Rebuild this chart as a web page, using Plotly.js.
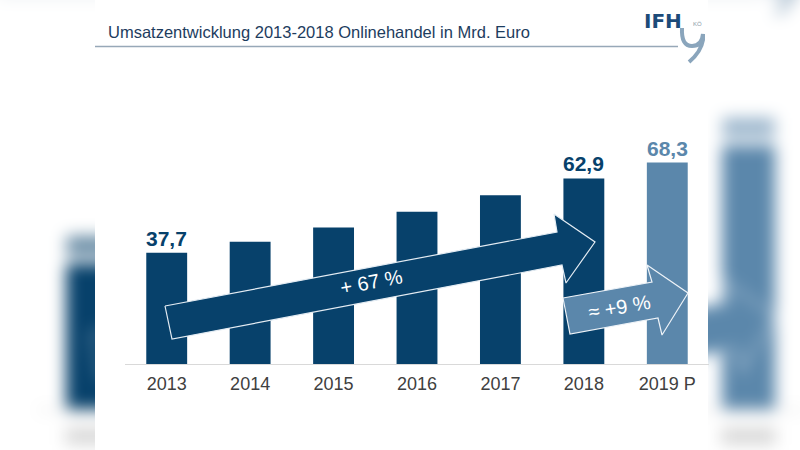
<!DOCTYPE html>
<html>
<head>
<meta charset="utf-8">
<script src="https://cdn.plot.ly/plotly-3.0.1.min.js"></script>
<style>
  html, body { margin:0; padding:0; background:#ffffff; width:800px; height:450px; overflow:hidden; }
  #bg { position:absolute; left:0; top:0; width:800px; height:450px;
        transform: scale(1.31); transform-origin: 405px 218px; filter: blur(6px); }
  #fg { position:absolute; left:0; top:0; width:800px; height:450px; }
</style>
</head>
<body>
<div id="bg"></div>
<div id="fg"></div>
<script>
// ---- data ----
const years = ['2013', '2014', '2015', '2016', '2017', '2018', '2019 P'];
const revenue = [37.7, 41.4, 46.3, 51.6, 57.2, 62.9, 68.3];   // Mrd. Euro
const isForecast = [false, false, false, false, false, false, true];
const showValue = [true, false, false, false, false, true, true];
const titleText = 'Umsatzentwicklung 2013-2018 Onlinehandel in Mrd. Euro';

// ---- style ----
const DARK = '#07416b';
const LIGHT = '#5b87ab';
const FONT = 'Liberation Sans, Arial, sans-serif';
const M = {l:125, r:91, t:128, b:86};
const W = 800 - M.l - M.r, H = 450 - M.t - M.b, BASE = 450 - M.b;

function px(x){ return (x - M.l) / W; }
function py(y){ return (BASE - y) / H; }
function pt(p){ return px(p[0]).toFixed(4) + ',' + py(p[1]).toFixed(4); }
function fmt(v){ return v.toFixed(1).replace('.', ','); }

const barColors = isForecast.map(f => f ? LIGHT : DARK);
const growthAll = Math.round((revenue[5] / revenue[0] - 1) * 100);
const growthNext = Math.round((revenue[6] / revenue[5] - 1) * 100);

// decorative arrow outlines, in page pixels (drawn on an overlay axis that maps pixels)
const bigArrow = [[165,306],[557,232],[554,214],[595,242],[566,283],[562,265],[172,339],[165,306]];
const smallArrow = [[563,298],[652,282],[647,265],[688,293],[662,335],[658,318],[570,334],[563,298]];

function makeTraces(isBg){
  const t = [{type:'bar', x: years.slice(), y: revenue.slice(),
    marker:{color: barColors.slice(), line:{width:0}}, hoverinfo:'skip', cliponaxis:false}];
  [[bigArrow, DARK, '#e4ecf3'], [smallArrow, LIGHT, '#eef3f8']].forEach(a => {
    t.push({type:'scatter', mode:'lines', xaxis:'x2', yaxis:'y2',
      x: a[0].map(p => p[0]), y: a[0].map(p => p[1]),
      fill:'toself', fillcolor:a[1], line:{color:a[2], width:1.2},
      hoverinfo:'skip', cliponaxis:false});
  });
  return t;
}

function makeLayout(isBg){
  const shapes = [];
  const ann = [];
  if (!isBg) {
    shapes.push({type:'rect', xref:'paper', yref:'paper', layer:'below',
      x0: px(95), x1: px(708), y0: -2, y1: 3, fillcolor:'#ffffff', line:{width:0}});
  }
  shapes.push({type:'line', xref:'paper', yref:'paper', x0:px(95), x1:px(678), y0:py(46.5), y1:py(46.5),
    line:{color:'#97a8b8', width:1.3}});
  shapes.push({type:'path', xref:'paper', yref:'paper',
    path: 'M '+pt([682,28])+' Q '+pt([681,46])+' '+pt([692,46])+
          ' Q '+pt([702,46])+' '+pt([703,34])+
          ' L '+pt([703,40])+' Q '+pt([701,52])+' '+pt([689,62]),
    line:{color:'#8aa5bc', width:4}});

  if (isBg) {
    // blurred copy: text replaced by soft blocks
    years.forEach((y, i) => {
      shapes.push({type:'rect', xref:'x', yref:'paper', x0:i-0.25, x1:i+0.25,
        y0: py(391), y1: py(378), fillcolor:'#909090', opacity:0.35, line:{width:0}});
      if (showValue[i]) {
        shapes.push({type:'rect', xref:'x', yref:'y', ysizemode:'pixel', yanchor: revenue[i],
          x0:i-0.24, x1:i+0.24, y0: 6, y1: 21,
          fillcolor: isForecast[i] ? LIGHT : DARK, opacity:0.6, line:{width:0}});
      }
    });
  } else {
    years.forEach((y, i) => {
      if (showValue[i]) {
        ann.push({x: i, y: revenue[i], xref:'x', yref:'y', text: '<b>' + fmt(revenue[i]) + '</b>',
          showarrow:false, yanchor:'bottom', yshift: 1,
          font:{family:FONT, size:21, color: isForecast[i] ? LIGHT : DARK}});
      }
    });
    ann.push({xref:'x2', yref:'y2', x: 371, y: 282, text: '+ ' + growthAll + ' %',
      showarrow:false, textangle:-10.7, font:{family:FONT, size:20, color:'#ffffff'}});
    ann.push({xref:'x2', yref:'y2', x: 619, y: 307, text: '\u2248 +' + growthNext + ' %',
      showarrow:false, textangle:-10, font:{family:FONT, size:20, color:'#ffffff'}});
    ann.push({xref:'paper', yref:'paper', x: px(642), y: py(20.5), xanchor:'left', yanchor:'middle',
      text:'<b>IFH</b>', showarrow:false, font:{family:'DejaVu Sans, sans-serif', size:20, color:'#1c4b79'}});
    ann.push({xref:'paper', yref:'paper', x: px(691), y: py(24.5), xanchor:'left', yanchor:'middle',
      text:'KÖ', showarrow:false, font:{family:FONT, size:6, color:'#8a9aa8'}});
  }

  const layout = {
    width:800, height:450,
    margin:M,
    paper_bgcolor: isBg ? '#ffffff' : 'rgba(0,0,0,0)',
    plot_bgcolor: 'rgba(0,0,0,0)',
    showlegend:false,
    bargap:0.51,
    xaxis:{type:'category', categoryorder:'array', categoryarray: years.slice(),
      range:[-0.5, years.length - 0.5],
      showline:true, linecolor:'#d9d9d9', linewidth:1, ticks:'',
      showgrid:false, zeroline:false, ticklabelstandoff:3, showticklabels: !isBg,
      tickfont:{family:FONT, size:18, color:'#404040'}},
    yaxis:{range:[0,80], visible:false, showgrid:false, zeroline:false},
    xaxis2:{overlaying:'x', range:[M.l, 800 - M.r], visible:false, showgrid:false, zeroline:false},
    yaxis2:{overlaying:'y', range:[BASE, M.t], visible:false, showgrid:false, zeroline:false},
    shapes: shapes,
    annotations: ann
  };
  if (!isBg) {
    layout.title = {text:titleText, xref:'container', yref:'container', x:108/800, xanchor:'left',
      y: 1 - 32/450, yanchor:'middle', font:{family:FONT, size:16.5, color:'#1d3c5e'}};
  }
  return layout;
}

Plotly.newPlot('bg', makeTraces(true), makeLayout(true), {staticPlot:true, displayModeBar:false});
Plotly.newPlot('fg', makeTraces(false), makeLayout(false), {staticPlot:true, displayModeBar:false});
</script>
</body>
</html>
